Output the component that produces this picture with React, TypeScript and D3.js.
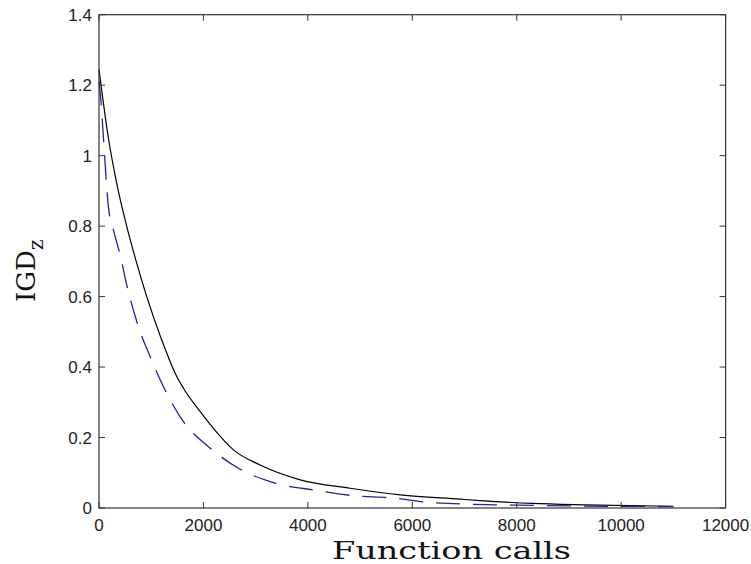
import React from "react";
import * as d3 from "d3";

const xTicks = [0, 2000, 4000, 6000, 8000, 10000, 12000];
const yTicks = [0, 0.2, 0.4, 0.6, 0.8, 1, 1.2, 1.4];
const yTickLabels = ["0", "0.2", "0.4", "0.6", "0.8", "1", "1.2", "1.4"];

const blackX = [0, 180, 370, 530, 703, 914, 1201, 1489, 1617, 1936, 2191, 2575, 3086, 3853, 4811, 5770, 6920, 7303, 8294, 9280, 11000];
const blackY = [1.245, 1.05, 0.9, 0.8, 0.705, 0.6, 0.477, 0.373, 0.34, 0.274, 0.226, 0.165, 0.122, 0.08, 0.056, 0.037, 0.025, 0.021, 0.013, 0.009, 0.005];

const blueX = [0, 40, 83, 179, 275, 402, 530, 754, 978, 1265, 1617, 2096, 2703, 3342, 4108, 4875, 5578, 6409, 8000, 11000];
const blueY = [1.21, 1.15, 1.055, 0.856, 0.79, 0.72, 0.634, 0.515, 0.43, 0.335, 0.245, 0.174, 0.11, 0.072, 0.051, 0.035, 0.029, 0.015, 0.008, 0.004];

export default function App() {
  const L = 99, R = 725.6, T = 14.7, B = 508;
  const x = d3.scaleLinear().domain([0, 12000]).range([L, R]);
  const y = d3.scaleLinear().domain([0, 1.4]).range([B, T]);
  const line = d3.line<[number, number]>().x(d => x(d[0])).y(d => y(d[1])).curve(d3.curveMonotoneX);
  const black = line(blackX.map((v, i) => [v, blackY[i]] as [number, number])) || "";
  const blue = line(blueX.map((v, i) => [v, blueY[i]] as [number, number])) || "";
  const tl = 6;
  const frame = "#333";
  const tickFont = "'Liberation Sans', Arial, sans-serif";
  return (
    <svg width={751} height={564} style={{ position: "absolute", left: 0, top: 0, background: "#fff" }}>
      <rect x={0} y={0} width={751} height={564} fill="#fff" />
      <path d={black} fill="none" stroke="#000" strokeWidth={1.2} />
      <path d={blue} fill="none" stroke="#22229a" strokeWidth={1.3} strokeDasharray="24,13" />
      <rect x={L} y={T} width={R - L} height={B - T} fill="none" stroke={frame} strokeWidth={1.2} />
      {xTicks.map((t, i) => (
        <g key={"x" + i}>
          <line x1={x(t)} x2={x(t)} y1={B} y2={B - tl} stroke={frame} />
          <line x1={x(t)} x2={x(t)} y1={T} y2={T + tl} stroke={frame} />
          <text x={x(t)} y={531} textAnchor="middle" fontFamily={tickFont} fontSize={17} fill="#222">{String(t)}</text>
        </g>
      ))}
      {yTicks.map((t, i) => (
        <g key={"y" + i}>
          <line x1={L} x2={L + tl} y1={y(t)} y2={y(t)} stroke={frame} />
          <line x1={R} x2={R - tl} y1={y(t)} y2={y(t)} stroke={frame} />
          <text x={92} y={y(t) + 6} textAnchor="end" fontFamily={tickFont} fontSize={17} fill="#222">{yTickLabels[i]}</text>
        </g>
      ))}
      <text x={332} y={559} fontFamily="'DejaVu Serif', serif" fontSize={25} textLength={239} lengthAdjust="spacingAndGlyphs" fill="#111">Function calls</text>
      <g transform="translate(35,302) rotate(-90)">
        <text x={0} y={0} fontFamily="'DejaVu Serif', serif" fontSize={26} fill="#111">
          IGD<tspan dy={8} fontSize={20}>z</tspan>
        </text>
      </g>
    </svg>
  );
}
